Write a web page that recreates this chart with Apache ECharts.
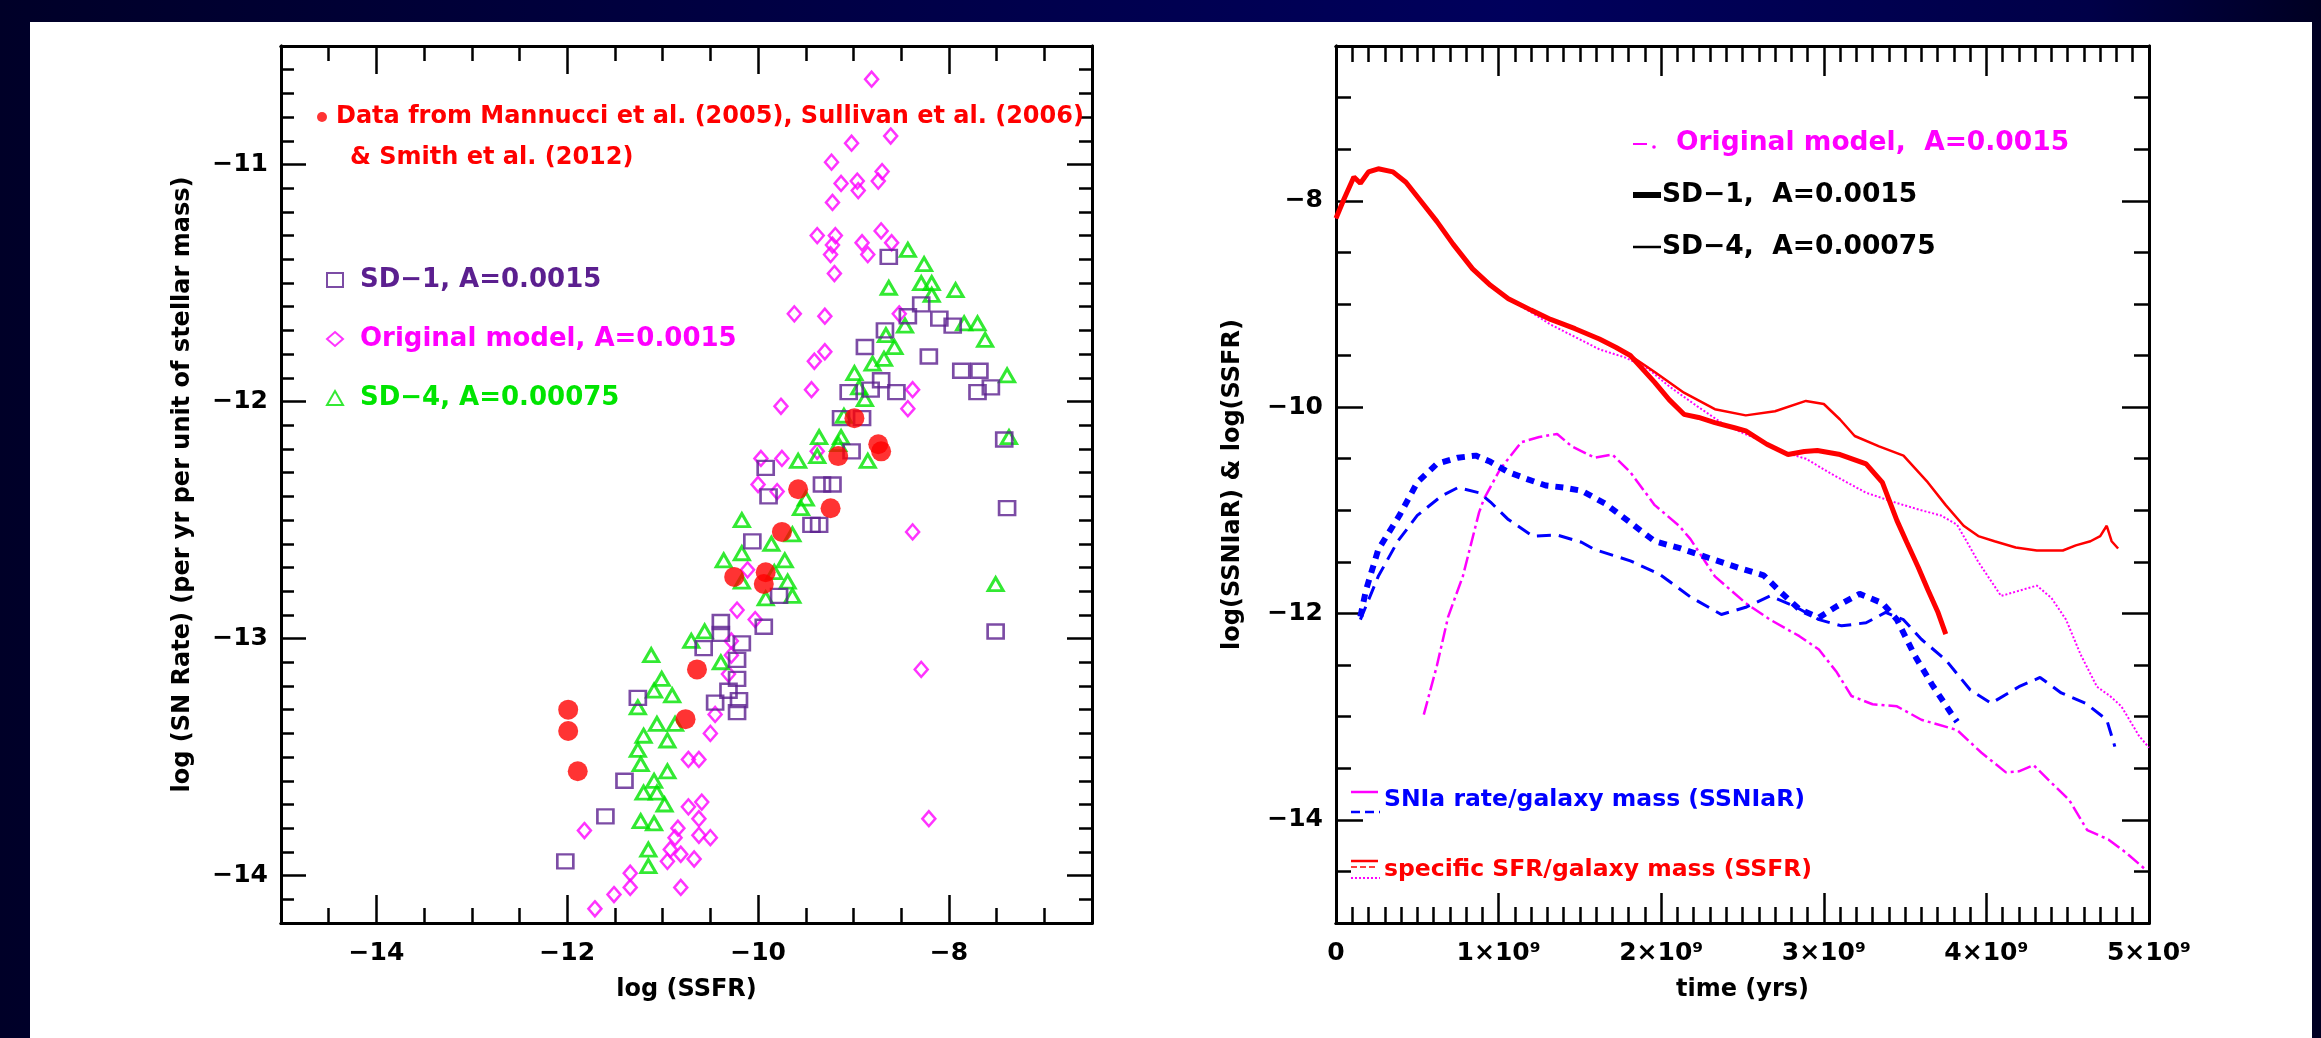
<!DOCTYPE html>
<html><head><meta charset="utf-8">
<script src="https://cdn.jsdelivr.net/npm/echarts@6/dist/echarts.min.js"></script>
<style>
html,body{margin:0;padding:0;width:2321px;height:1038px;overflow:hidden;background:linear-gradient(90deg,#000028 0%,#000045 35%,#00005c 65%,#000048 90%,#000022 100%);}
#panel{position:absolute;left:30px;top:22px;width:2282px;height:1016px;background:#fff;}
#chart{position:absolute;left:0;top:0;width:2321px;height:1038px;}
</style></head><body><div id="panel"></div><div id="chart"></div>
<script>
// ---------- Left panel: log(SN rate) vs log(SSFR) ----------
const dataObs = [[-8.99,-12.07],[-9.16,-12.23],[-8.74,-12.18],[-8.71,-12.21],[-9.58,-12.37],[-9.24,-12.45],[-9.75,-12.55],[-10.25,-12.74],[-9.92,-12.72],[-9.94,-12.77],[-10.64,-13.13],[-11.99,-13.30],[-11.99,-13.39],[-10.76,-13.34],[-11.89,-13.56]];
const sd1Points = [[-8.63,-11.39],[-8.29,-11.59],[-8.43,-11.64],[-8.10,-11.65],[-7.96,-11.68],[-8.67,-11.70],[-8.88,-11.77],[-8.21,-11.81],[-7.87,-11.87],[-7.68,-11.87],[-7.70,-11.96],[-7.56,-11.94],[-8.71,-11.91],[-9.05,-11.96],[-8.82,-11.95],[-8.55,-11.96],[-9.13,-12.07],[-8.91,-12.07],[-9.02,-12.21],[-7.42,-12.16],[-9.92,-12.28],[-9.89,-12.40],[-9.33,-12.35],[-9.22,-12.35],[-7.39,-12.45],[-9.44,-12.52],[-9.36,-12.52],[-10.06,-12.59],[-9.78,-12.82],[-10.39,-12.93],[-9.94,-12.95],[-10.39,-12.98],[-7.51,-12.97],[-10.17,-13.02],[-10.57,-13.04],[-10.22,-13.09],[-10.22,-13.17],[-10.31,-13.22],[-11.26,-13.25],[-10.45,-13.27],[-10.20,-13.26],[-10.22,-13.31],[-11.40,-13.60],[-11.60,-13.75],[-12.02,-13.94]];
const origPoints = [[-8.81,-10.64],[-8.61,-10.88],[-9.02,-10.91],[-9.23,-10.99],[-8.70,-11.03],[-9.13,-11.08],[-8.96,-11.07],[-8.95,-11.11],[-8.74,-11.07],[-9.22,-11.16],[-9.38,-11.30],[-9.19,-11.30],[-8.71,-11.28],[-9.22,-11.34],[-8.91,-11.33],[-8.60,-11.33],[-9.24,-11.38],[-8.85,-11.38],[-9.20,-11.46],[-9.62,-11.63],[-9.30,-11.64],[-8.52,-11.63],[-9.30,-11.79],[-9.41,-11.83],[-9.44,-11.95],[-9.76,-12.02],[-8.38,-11.95],[-8.43,-12.03],[-9.38,-12.21],[-9.97,-12.24],[-9.75,-12.24],[-10.00,-12.35],[-9.80,-12.38],[-8.38,-12.55],[-10.11,-12.71],[-10.22,-12.88],[-10.03,-12.92],[-10.28,-13.01],[-10.28,-13.07],[-10.31,-13.15],[-8.29,-13.13],[-10.45,-13.32],[-10.50,-13.40],[-10.73,-13.51],[-10.62,-13.51],[-10.59,-13.69],[-10.73,-13.71],[-10.62,-13.76],[-11.82,-13.81],[-10.84,-13.80],[-10.87,-13.84],[-10.62,-13.83],[-10.50,-13.84],[-10.92,-13.89],[-10.81,-13.91],[-10.95,-13.94],[-10.67,-13.93],[-8.21,-13.76],[-11.34,-13.99],[-11.34,-14.05],[-11.51,-14.08],[-10.81,-14.05],[-11.71,-14.14]];
const sd4Points = [[-8.43,-11.36],[-8.26,-11.42],[-8.29,-11.50],[-8.63,-11.52],[-8.18,-11.50],[-7.93,-11.53],[-8.18,-11.55],[-7.70,-11.67],[-7.84,-11.67],[-7.62,-11.74],[-8.46,-11.68],[-8.66,-11.72],[-8.57,-11.77],[-8.68,-11.82],[-7.39,-11.89],[-8.99,-11.88],[-8.80,-11.84],[-8.94,-11.94],[-8.88,-11.99],[-7.37,-12.15],[-9.10,-12.06],[-9.36,-12.15],[-9.13,-12.15],[-9.38,-12.23],[-9.58,-12.25],[-8.85,-12.25],[-9.16,-12.18],[-9.50,-12.41],[-9.55,-12.45],[-9.64,-12.56],[-10.17,-12.50],[-9.86,-12.60],[-10.36,-12.67],[-10.17,-12.64],[-9.72,-12.67],[-9.69,-12.76],[-10.17,-12.76],[-9.83,-12.72],[-9.64,-12.82],[-9.92,-12.83],[-10.56,-12.97],[-10.70,-13.01],[-10.39,-13.10],[-11.12,-13.07],[-11.01,-13.17],[-11.09,-13.22],[-10.90,-13.24],[-11.26,-13.29],[-11.06,-13.36],[-10.87,-13.36],[-11.20,-13.41],[-10.95,-13.43],[-11.26,-13.47],[-11.23,-13.53],[-10.95,-13.56],[-11.09,-13.60],[-11.20,-13.65],[-11.06,-13.65],[-10.98,-13.70],[-11.23,-13.77],[-11.09,-13.78],[-11.15,-13.89],[-11.15,-13.96],[-7.51,-12.77]];
const leftXMajor = [-14,-12,-10,-8];
const leftYMajor = [-14,-13,-12,-11];

// ---------- Right panel: log rates vs time (time in units of 1e9 yr) ----------
const sd1Ssfr = [[0.0,-8.17],[0.05,-7.98],[0.11,-7.77],[0.15,-7.83],[0.2,-7.72],[0.26,-7.69],[0.35,-7.72],[0.43,-7.82],[0.52,-8.0],[0.62,-8.2],[0.72,-8.42],[0.84,-8.66],[0.95,-8.82],[1.06,-8.95],[1.2,-9.06],[1.32,-9.15],[1.47,-9.24],[1.62,-9.34],[1.72,-9.42],[1.81,-9.5],[1.96,-9.76],[2.05,-9.93],[2.14,-10.07],[2.23,-10.1],[2.33,-10.15],[2.45,-10.2],[2.52,-10.23],[2.65,-10.36],[2.78,-10.46],[2.88,-10.43],[2.96,-10.42],[3.1,-10.46],[3.26,-10.55],[3.36,-10.73],[3.45,-11.1],[3.51,-11.31],[3.58,-11.55],[3.64,-11.77],[3.7,-11.98],[3.75,-12.2]];
const sd4Ssfr = [[0.0,-8.17],[0.05,-7.98],[0.11,-7.77],[0.15,-7.83],[0.2,-7.72],[0.26,-7.69],[0.35,-7.72],[0.43,-7.82],[0.52,-8.0],[0.62,-8.2],[0.72,-8.42],[0.84,-8.66],[0.95,-8.82],[1.06,-8.95],[1.2,-9.06],[1.32,-9.15],[1.47,-9.24],[1.62,-9.34],[1.72,-9.42],[1.81,-9.5],[1.96,-9.66],[2.14,-9.86],[2.33,-10.02],[2.52,-10.08],[2.7,-10.04],[2.89,-9.94],[3.0,-9.97],[3.1,-10.12],[3.19,-10.28],[3.34,-10.38],[3.49,-10.47],[3.64,-10.73],[3.75,-10.95],[3.86,-11.15],[3.95,-11.25],[4.05,-11.3],[4.18,-11.36],[4.31,-11.39],[4.47,-11.39],[4.55,-11.34],[4.64,-11.3],[4.7,-11.25],[4.74,-11.15],[4.77,-11.3],[4.81,-11.37]];
const origSsfr = [[0.0,-8.17],[0.05,-7.98],[0.11,-7.77],[0.15,-7.83],[0.2,-7.72],[0.26,-7.69],[0.35,-7.72],[0.43,-7.82],[0.52,-8.0],[0.62,-8.2],[0.72,-8.42],[0.84,-8.66],[0.95,-8.82],[1.06,-8.95],[1.2,-9.08],[1.32,-9.2],[1.47,-9.32],[1.62,-9.44],[1.78,-9.52],[1.92,-9.63],[2.05,-9.8],[2.22,-9.99],[2.37,-10.15],[2.5,-10.25],[2.65,-10.35],[2.78,-10.45],[2.89,-10.5],[3.05,-10.65],[3.26,-10.83],[3.45,-10.93],[3.6,-11.0],[3.72,-11.05],[3.82,-11.14],[3.95,-11.5],[4.09,-11.83],[4.2,-11.78],[4.31,-11.73],[4.4,-11.85],[4.49,-12.06],[4.58,-12.4],[4.68,-12.71],[4.76,-12.8],[4.83,-12.9],[4.94,-13.19],[5.0,-13.3]];
const sd1Snr = [[0.15,-12.03],[0.185,-11.77],[0.26,-11.38],[0.39,-11.05],[0.5,-10.73],[0.62,-10.55],[0.75,-10.49],[0.86,-10.47],[0.95,-10.53],[1.06,-10.63],[1.18,-10.7],[1.29,-10.76],[1.4,-10.78],[1.51,-10.81],[1.66,-10.94],[1.81,-11.12],[1.96,-11.3],[2.12,-11.37],[2.29,-11.46],[2.48,-11.56],[2.63,-11.63],[2.74,-11.8],[2.85,-11.96],[2.97,-12.04],[3.08,-11.93],[3.22,-11.81],[3.36,-11.9],[3.45,-12.06],[3.56,-12.41],[3.67,-12.7],[3.78,-12.96],[3.82,-13.05]];
const sd4Snr = [[0.15,-12.06],[0.26,-11.64],[0.38,-11.3],[0.5,-11.05],[0.65,-10.86],[0.75,-10.78],[0.88,-10.83],[0.95,-10.92],[1.06,-11.09],[1.21,-11.25],[1.36,-11.24],[1.51,-11.31],[1.59,-11.38],[1.81,-11.49],[1.99,-11.62],[2.18,-11.84],[2.37,-12.01],[2.52,-11.94],[2.67,-11.83],[2.82,-11.93],[2.97,-12.06],[3.11,-12.12],[3.26,-12.09],[3.38,-11.99],[3.49,-12.06],[3.6,-12.25],[3.75,-12.45],[3.9,-12.74],[4.03,-12.87],[4.2,-12.71],[4.33,-12.62],[4.46,-12.77],[4.61,-12.87],[4.74,-13.03],[4.79,-13.29]];
const origSnr = [[0.54,-12.98],[0.62,-12.51],[0.69,-12.03],[0.78,-11.64],[0.88,-11.02],[0.91,-10.89],[1.01,-10.6],[1.14,-10.34],[1.25,-10.29],[1.36,-10.26],[1.45,-10.38],[1.59,-10.49],[1.7,-10.46],[1.81,-10.63],[1.96,-10.95],[2.11,-11.15],[2.18,-11.28],[2.33,-11.64],[2.52,-11.9],[2.67,-12.06],[2.85,-12.22],[2.97,-12.35],[3.08,-12.57],[3.17,-12.8],[3.3,-12.88],[3.45,-12.9],[3.6,-13.03],[3.82,-13.13],[3.97,-13.35],[4.12,-13.54],[4.2,-13.53],[4.29,-13.47],[4.38,-13.61],[4.51,-13.81],[4.62,-14.1],[4.75,-14.19],[4.86,-14.32],[4.97,-14.47]];
const rightXMajor = [0,1,2,3,4,5];
const rightYMajor = [-14,-12,-10,-8];

const FONT = '"DejaVu Sans", sans-serif';
const minus = v => (v < 0 ? '\u2212' : '') + Math.abs(v);
const timeFmt = v => v === 0 ? '0' : v + '\u00d710\u2079';

function axisSet(dim, grid, min, max, step, majors, majLen, minLen, fmt, margin, name, nameGap) {
  const pos = dim === 'x' ? ['bottom', 'top'] : ['left', 'right'];
  const out = [];
  pos.forEach((p, i) => {
    const base = {type: 'value', gridIndex: grid, position: p, min: min, max: max,
      splitLine: {show: false},
      axisLine: {show: true, onZero: false, lineStyle: {color: '#000', width: 3}}};
    out.push(Object.assign({}, base, {interval: step,
      axisTick: {show: true, inside: true, length: minLen, lineStyle: {color: '#000', width: 2.5}},
      axisLabel: {show: false}}));
    const major = Object.assign({}, base, {
      axisTick: {show: true, inside: true, length: majLen, customValues: majors, lineStyle: {color: '#000', width: 2.5}},
      axisLabel: i === 0 ? {show: true, customValues: majors, formatter: fmt, color: '#000', fontSize: 25,
        fontWeight: 'bold', fontFamily: FONT, margin: margin} : {show: false}});
    if (i === 0 && name) {
      major.name = name; major.nameLocation = 'middle'; major.nameGap = nameGap;
      major.nameTextStyle = {color: '#000', fontSize: 24, fontWeight: 'bold', fontFamily: FONT};
    }
    out.push(major);
  });
  return out;
}

const xAxes = [].concat(
  axisSet('x', 0, -15, -6.5, 0.5, leftXMajor, 28, 15, minus, 18, 'log (SSFR)', 55),
  axisSet('x', 1, 0, 5, 0.1, rightXMajor, 30, 16, timeFmt, 18, 'time (yrs)', 55)
);
const yAxes = [].concat(
  axisSet('y', 0, -14.2, -10.5, 0.1, leftYMajor, 25, 13, minus, 13, 'log (SN Rate) (per yr per unit of stellar mass)', 86),
  axisSet('y', 1, -15, -6.5, 0.5, rightYMajor, 27, 15, minus, 13, 'log(SSNIaR) & log(SSFR)', 91)
);

const LBL = {fontFamily: FONT, fontWeight: 'bold'};
const chart = echarts.init(document.getElementById('chart'), null, {renderer: 'canvas'});
chart.setOption({
  backgroundColor: 'transparent',
  animation: false,
  grid: [
    {left: 281, top: 46, width: 811, height: 877},
    {left: 1336, top: 46, width: 813, height: 877}
  ],
  xAxis: xAxes,
  yAxis: yAxes,
  legend: [
    {left: 312, top: 98, itemWidth: 12, itemHeight: 10, itemGap: 0,
      data: [{name: 'Data from Mannucci et al. (2005), Sullivan et al. (2006)', icon: 'circle'}],
      textStyle: Object.assign({color: '#ff0000', fontSize: 24, lineHeight: 28, padding: [0, 0, 0, 3]}, LBL)},
    {left: 321, top: 260, orient: 'vertical', itemWidth: 16, itemHeight: 14, itemGap: 29,
      data: [
        {name: 'SD\u22121, A=0.0015', textStyle: {color: '#5b1f8f'}},
        {name: 'Original model, A=0.0015', textStyle: {color: '#ff00ff'}},
        {name: 'SD\u22124, A=0.00075', textStyle: {color: '#00e400'}}
      ],
      textStyle: Object.assign({fontSize: 26, lineHeight: 30, padding: [0, 0, 0, 12]}, LBL)}
  ],
  graphic: [
    {type: 'text', x: 350, y: 158, style: {text: '& Smith et al. (2012)', fill: '#ff0000', font: 'bold 24px ' + FONT, verticalAlign: 'middle'}},
    {type: 'line', shape: {x1: 1633, y1: 144, x2: 1647, y2: 144}, style: {stroke: '#ff00ff', lineWidth: 2}},
    {type: 'circle', shape: {cx: 1654, cy: 147, r: 1.8}, style: {fill: '#ff00ff'}},
    {type: 'text', x: 1676, y: 143, style: {text: 'Original model,  A=0.0015', fill: '#ff00ff', font: 'bold 26.5px ' + FONT, verticalAlign: 'middle'}},
    {type: 'rect', shape: {x: 1633, y: 192, width: 28, height: 6}, style: {fill: '#000'}},
    {type: 'text', x: 1662, y: 195, style: {text: 'SD\u22121,  A=0.0015', fill: '#000', font: 'bold 26.5px ' + FONT, verticalAlign: 'middle'}},
    {type: 'line', shape: {x1: 1633, y1: 247, x2: 1661, y2: 247}, style: {stroke: '#000', lineWidth: 2.5}},
    {type: 'text', x: 1662, y: 247, style: {text: 'SD\u22124,  A=0.00075', fill: '#000', font: 'bold 26.5px ' + FONT, verticalAlign: 'middle'}},
    {type: 'line', shape: {x1: 1351, y1: 792, x2: 1378, y2: 792}, style: {stroke: '#ff00ff', lineWidth: 2.5}},
    {type: 'line', shape: {x1: 1351, y1: 812, x2: 1380, y2: 812}, style: {stroke: '#0000ff', lineWidth: 2.5, lineDash: [9, 5]}},
    {type: 'text', x: 1384, y: 800, style: {text: 'SNIa rate/galaxy mass (SSNIaR)', fill: '#0000ff', font: 'bold 23.5px ' + FONT, verticalAlign: 'middle'}},
    {type: 'line', shape: {x1: 1351, y1: 861, x2: 1378, y2: 861}, style: {stroke: '#ff0000', lineWidth: 2.5}},
    {type: 'line', shape: {x1: 1351, y1: 867, x2: 1378, y2: 867}, style: {stroke: '#ff0000', lineWidth: 1.5, lineDash: [6, 3]}},
    {type: 'line', shape: {x1: 1351, y1: 878, x2: 1380, y2: 878}, style: {stroke: '#ff00ff', lineWidth: 2, lineDash: [2, 2]}},
    {type: 'text', x: 1384, y: 870, style: {text: 'specific SFR/galaxy mass (SSFR)', fill: '#ff0000', font: 'bold 23.5px ' + FONT, verticalAlign: 'middle'}}
  ],
  series: [
    {name: 'Original model, A=0.0015', type: 'scatter', xAxisIndex: 0, yAxisIndex: 0, data: origPoints,
      symbol: 'diamond', symbolSize: [13, 15], itemStyle: {color: 'transparent', borderColor: '#ff00ff', borderWidth: 2.5}},
    {name: 'SD\u22124, A=0.00075', type: 'scatter', xAxisIndex: 0, yAxisIndex: 0, data: sd4Points,
      symbol: 'triangle', symbolSize: [15, 13], itemStyle: {color: 'transparent', borderColor: '#00e400', borderWidth: 3}},
    {name: 'SD\u22121, A=0.0015', type: 'scatter', xAxisIndex: 0, yAxisIndex: 0, data: sd1Points,
      symbol: 'rect', symbolSize: [16, 14], itemStyle: {color: 'transparent', borderColor: '#5b1f8f', borderWidth: 2.5}},
    {name: 'Data from Mannucci et al. (2005), Sullivan et al. (2006)', type: 'scatter', xAxisIndex: 0, yAxisIndex: 0, data: dataObs,
      symbol: 'circle', symbolSize: 20, itemStyle: {color: '#ff0000'}},

    {name: 'Original SSNIaR', type: 'line', xAxisIndex: 4, yAxisIndex: 4, data: origSnr, symbol: 'none',
      lineStyle: {color: '#ff00ff', width: 2.5, type: [14, 4, 3, 4]}},
    {name: 'SD-4 SSNIaR', type: 'line', xAxisIndex: 4, yAxisIndex: 4, data: sd4Snr, symbol: 'none',
      lineStyle: {color: '#0000ff', width: 3, type: [14, 8]}},
    {name: 'SD-1 SSNIaR', type: 'line', xAxisIndex: 4, yAxisIndex: 4, data: sd1Snr, symbol: 'none',
      lineStyle: {color: '#0000ff', width: 6, type: [8, 7]}},
    {name: 'Original SSFR', type: 'line', xAxisIndex: 4, yAxisIndex: 4, data: origSsfr, symbol: 'none',
      lineStyle: {color: '#ff00ff', width: 2, type: [2, 2]}},
    {name: 'SD-4 SSFR', type: 'line', xAxisIndex: 4, yAxisIndex: 4, data: sd4Ssfr, symbol: 'none',
      lineStyle: {color: '#ff0000', width: 2.5}},
    {name: 'SD-1 SSFR', type: 'line', xAxisIndex: 4, yAxisIndex: 4, data: sd1Ssfr, symbol: 'none',
      lineStyle: {color: '#ff0000', width: 5}}
  ]
});
</script></body></html>
